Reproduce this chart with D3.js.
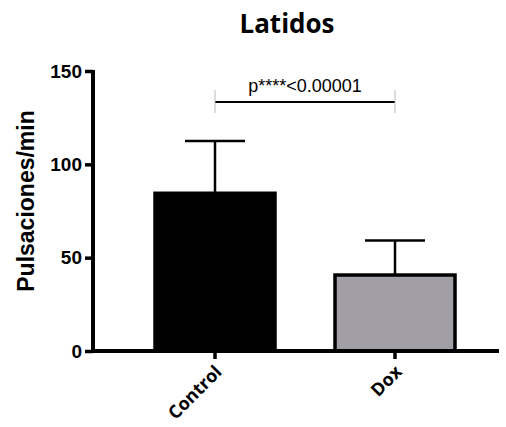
<!DOCTYPE html>
<html>
<head>
<meta charset="utf-8">
<script src="https://cdn.jsdelivr.net/npm/d3@7"></script>
<style>
  body { margin: 0; background: #fff; }
</style>
</head>
<body>
<div id="chart"></div>
<script>
// data
var groups = ["Control", "Dox"];
var means = [84.5, 40.7];
var sds = [28, 18.5];
var fills = ["#000000", "#a19fa5"];
var yTicks = [0, 50, 100, 150];
var pText = "p****<0.00001";

var width = 506;
var height = 427;

var svg = d3.select("#chart").append("svg")
    .attr("width", width)
    .attr("height", height);

var xScale = d3.scaleBand()
    .domain(groups)
    .range([95, 515])
    .paddingInner(1 / 3)
    .paddingOuter(1 / 3);

var yScale = d3.scaleLinear()
    .domain([0, 150])
    .range([351, 71]);

// title
svg.append("text")
    .attr("x", 287).attr("y", 33)
    .attr("text-anchor", "middle")
    .style("font-family", "'Open Sans', sans-serif")
    .style("font-weight", "bold")
    .style("font-size", "26px")
    .text("Latidos");

// y label
svg.append("text")
    .attr("transform", "translate(34,201) rotate(-90)")
    .attr("text-anchor", "middle")
    .style("font-family", "'Liberation Sans', Arial, sans-serif")
    .style("font-weight", "bold")
    .style("font-size", "23px")
    .text("Pulsaciones/min");

// bars
svg.selectAll(".bar").data(groups).enter().append("rect")
    .attr("class", "bar")
    .attr("x", d => xScale(d))
    .attr("y", (d, i) => yScale(means[i]))
    .attr("width", xScale.bandwidth())
    .attr("height", (d, i) => yScale(0) - yScale(means[i]))
    .attr("fill", (d, i) => fills[i])
    .attr("stroke", "#000")
    .attr("stroke-width", 3.5);

// error bars (upper only)
var capW = xScale.bandwidth() / 2;
groups.forEach(function (g, i) {
    var cx = xScale(g) + xScale.bandwidth() / 2;
    svg.append("line")
        .attr("x1", cx).attr("x2", cx)
        .attr("y1", yScale(means[i])).attr("y2", yScale(means[i] + sds[i]))
        .attr("stroke", "#000").attr("stroke-width", 2.5);
    svg.append("line")
        .attr("x1", cx - capW / 2).attr("x2", cx + capW / 2)
        .attr("y1", yScale(means[i] + sds[i])).attr("y2", yScale(means[i] + sds[i]))
        .attr("stroke", "#000").attr("stroke-width", 2.5);
});

// y axis
var yAxis = svg.append("g")
    .attr("transform", "translate(93,0)")
    .call(d3.axisLeft(yScale).tickValues(yTicks).tickSize(8).tickSizeOuter(0));
yAxis.select(".domain").attr("stroke-width", 4).attr("d", "M0," + (yScale(0) + 2) + "V" + (yScale(150) - 1));
yAxis.selectAll(".tick line").attr("stroke-width", 3.5);
yAxis.selectAll(".tick text")
    .attr("x", -11)
    .style("font-family", "'Liberation Sans', Arial, sans-serif")
    .style("font-weight", "bold")
    .style("font-size", "19px")
    .attr("fill", "#000");

// x axis
var xAxis = svg.append("g")
    .attr("transform", "translate(0,351)")
    .call(d3.axisBottom(xScale).tickSize(8).tickSizeOuter(0));
xAxis.select(".domain").attr("stroke-width", 4).attr("d", "M91,0H499");
xAxis.selectAll(".tick line").attr("stroke-width", 3.5);
xAxis.selectAll(".tick text")
    .attr("x", 0).attr("y", 0).attr("dy", 0)
    .attr("text-anchor", "end")
    .attr("transform", "translate(8,22) rotate(-45)")
    .style("font-family", "'Open Sans', sans-serif")
    .style("font-weight", "bold")
    .style("font-size", "18px")
    .attr("fill", "#000");

// significance bracket
var x1 = xScale("Control") + xScale.bandwidth() / 2;
var x2 = xScale("Dox") + xScale.bandwidth() / 2;
var by = 102;
svg.append("line")
    .attr("x1", x1).attr("x2", x2).attr("y1", by).attr("y2", by)
    .attr("stroke", "#000").attr("stroke-width", 2);
[x1, x2].forEach(function (x) {
    svg.append("line")
        .attr("x1", x).attr("x2", x).attr("y1", by - 12).attr("y2", by + 11)
        .attr("stroke", "#bbb").attr("stroke-width", 1);
});
svg.append("text")
    .attr("x", (x1 + x2) / 2).attr("y", by - 10)
    .attr("text-anchor", "middle")
    .style("font-family", "'Liberation Sans', Arial, sans-serif")
    .style("font-size", "18px")
    .text(pText);
</script>
</body>
</html>
